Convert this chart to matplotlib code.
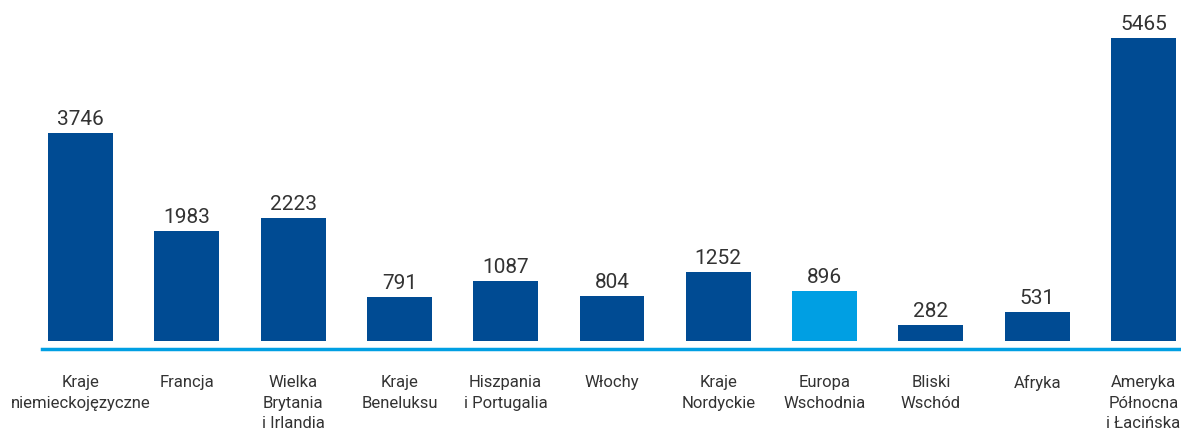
import matplotlib.pyplot as plt

# Data
regions = ["Kraje\nniemieckojęzyczne", "Francja", "Wielka\nBrytania\ni Irlandia",
           "Kraje\nBeneluksu", "Hiszpania\ni Portugalia", "Włochy", "Kraje\nNordyckie",
           "Europa\nWschodnia", "Bliski\nWschód", "Afryka", "Ameryka\nPółnocna\ni Łacińska"]
values = [3746, 1983, 2223, 791, 1087, 804, 1252, 896, 282, 531, 5465]
highlight = "Europa\nWschodnia"

dark_blue = "#004b93"
light_blue = "#009fe3"
text_color = "#333333"

plt.rcParams['font.family'] = ['Roboto', 'DejaVu Sans']

fig = plt.figure(figsize=(11.81, 4.38), dpi=100)
ax = fig.add_axes([42 / 1181, (438 - 349) / 438, 1 - 42 / 1181, 349 / 438])

x = list(range(len(values)))
colors = [light_blue if r == highlight else dark_blue for r in regions]
ax.bar(x, values, width=0.61, color=colors, zorder=2)

# value labels above bars
for xi, v in zip(x, values):
    ax.text(xi, v + 70, str(v), ha='center', va='bottom', fontsize=15,
            color=text_color)

ax.set_xlim(-0.362, 10.353)
ax.set_ylim(-144, 6144)

ax.set_xticks(x)
ax.set_xticklabels(regions, fontsize=12, color=text_color, linespacing=1.45,
                   va='top')
ax.tick_params(axis='x', length=0, pad=19)
ax.set_yticks([])

for side in ['top', 'right', 'left']:
    ax.spines[side].set_visible(False)
ax.spines['bottom'].set_color(light_blue)
ax.spines['bottom'].set_linewidth(2.5)

fig.savefig("out.png", dpi=100)
plt.close(fig)
